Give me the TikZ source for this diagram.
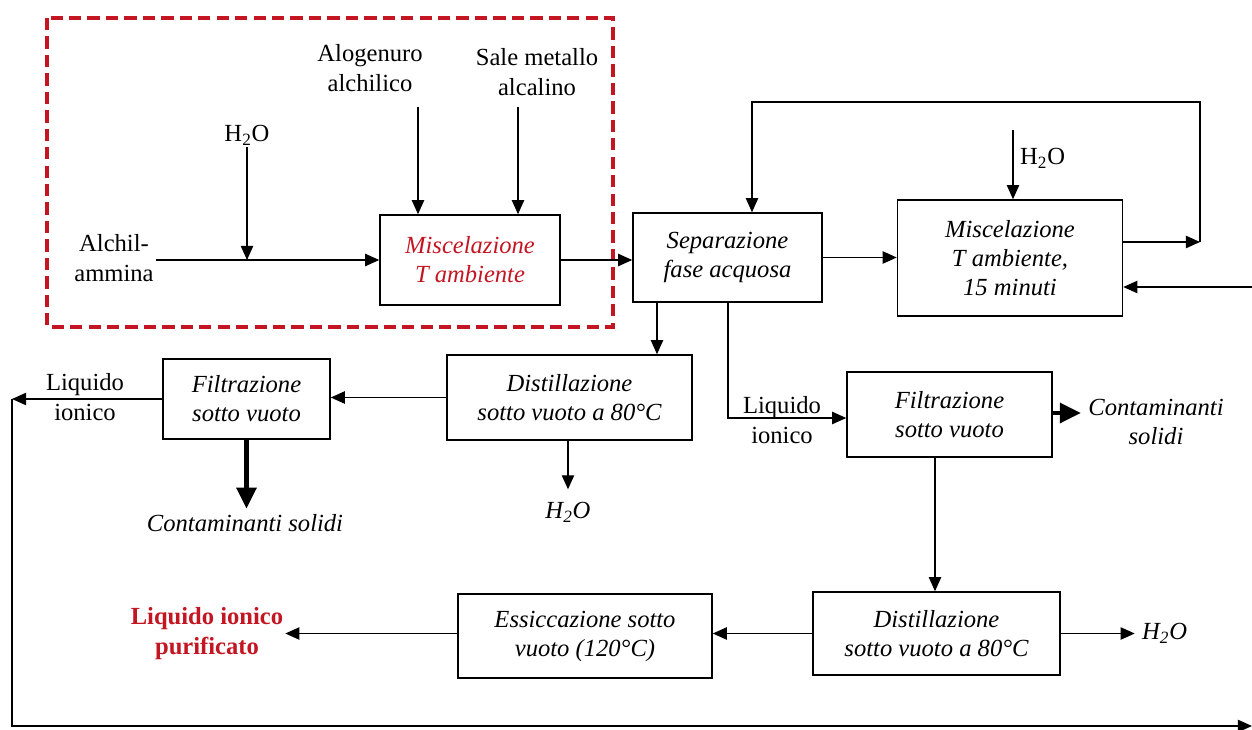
\documentclass[tikz,border=0pt]{standalone}
\usepackage{fontspec}
\setmainfont{Liberation Serif}
\usetikzlibrary{arrows.meta}
\definecolor{dred}{RGB}{196,22,34}
\begin{document}
\begin{tikzpicture}[x=0.02cm,y=-0.02cm,
  font=\fontsize{14}{17}\selectfont,
  box/.style={draw,line width=0.9pt,inner sep=0pt,align=center,font=\fontsize{14}{16.5}\selectfont\itshape},
  lbl/.style={align=center,inner sep=1pt},
  arr/.style={line width=0.75pt,-{Triangle[length=8pt,width=7pt]}},
  thk/.style={line width=2.8pt,-{Triangle[length=12pt,width=11pt]}},
  redbox/.style={draw=dred,line width=2.3pt,dash pattern=on 7pt off 3.5pt}]
\useasboundingbox (0,0) rectangle (1252,730);

% dashed frame
\draw[redbox] (47,18) rectangle (613,327);

% boxes
\node[box,text=dred,minimum width=3.6cm,minimum height=1.8cm] (m1) at (470,260) {Miscelazione\\T ambiente};
\node[box,minimum width=3.78cm,minimum height=1.78cm] (sep) at (727.5,257.5) {Separazione\\fase acquosa};
\node[box,minimum width=4.5cm,minimum height=2.32cm] (m2) at (1010,258) {Miscelazione\\T ambiente,\\15 minuti};
\node[box,minimum width=4.9cm,minimum height=1.7cm] (d1) at (569.5,397.5) {Distillazione\\sotto vuoto a 80°C};
\node[box,minimum width=3.34cm,minimum height=1.6cm] (f1) at (246.5,399) {Filtrazione\\sotto vuoto};
\node[box,minimum width=4.1cm,minimum height=1.7cm] (f2) at (949.5,414.5) {Filtrazione\\sotto vuoto};
\node[box,minimum width=4.94cm,minimum height=1.66cm] (d2) at (936.5,633.5) {Distillazione\\sotto vuoto a 80°C};
\node[box,minimum width=5.08cm,minimum height=1.68cm] (es) at (585,636) {Essiccazione sotto\\vuoto (120°C)};

% labels
\node[lbl] (alch) at (114,258) {Alchil-\\ammina};
\node[lbl] (h2oA) at (247,135) {H\textsubscript{2}O};
\node[lbl] (alo) at (370,68) {Alogenuro\\alchilico};
\node[lbl] (sale) at (537,72) {Sale metallo\\alcalino};
\node[lbl,anchor=west] (h2oB) at (1018,158) {H\textsubscript{2}O};
\node[lbl] (liq1) at (85,397) {Liquido\\ionico};
\node[lbl,font=\fontsize{14}{17}\selectfont\itshape] (cs1) at (245,523) {Contaminanti solidi};
\node[lbl,font=\fontsize{14}{17}\selectfont\itshape] (h2oC) at (568,512) {H\textsubscript{2}O};
\node[lbl] (liq2) at (782,420) {Liquido\\ionico};
\node[lbl,font=\fontsize{14}{17}\selectfont\itshape] (cs2) at (1156,422) {Contaminanti\\solidi};
\node[lbl,font=\fontsize{14}{17}\selectfont\itshape,anchor=west] (h2oD) at (1140,633) {H\textsubscript{2}O};
\node[lbl,text=dred,font=\fontsize{14}{17}\selectfont\bfseries] (fin) at (207,634) {Liquido ionico\\purificato};

% coordinates
\coordinate (aloS) at (418,107);
\coordinate (saleS) at (518,107);
\coordinate (h2oBS) at (1013,130);
\coordinate (lpR) at (1200,242);
\coordinate (lpT) at (752,102);
\coordinate (inR) at (1252,287);
\coordinate (x657) at (657,0);
\coordinate (lq2) at (728,418);
\coordinate (lft) at (12,399);
\coordinate (x568) at (568,0);
\coordinate (x935) at (935,0);
\coordinate (y413) at (0,413);
\coordinate (bot) at (12,726);
\coordinate (botR) at (1252,726);

% connectors
\draw[arr] (alch.east |- m1.west) -- (m1.west);
\draw[arr] (h2oA.south) -- (h2oA.south |- m1.west);
\draw[arr] (aloS) -- (aloS |- m1.north);
\draw[arr] (saleS) -- (saleS |- m1.north);
\draw[arr] (m1.east) -- (m1.east -| sep.west);
\draw[arr] (sep.east) -- (sep.east -| m2.west);
\draw[arr] (h2oBS) -- (h2oBS |- m2.north);
\draw[arr] (m2.east |- lpR) -- (lpR);
\draw[arr] (lpR) -- (lpR |- lpT) -- (lpT) -- (lpT |- sep.north);
\draw[arr] (inR) -- (inR -| m2.east);
\draw[arr] (sep.south -| x657) -- (d1.north -| x657);
\draw[arr] (sep.south -| lq2) -- (lq2) -- (lq2 -| f2.west);
\draw[arr] (d1.west) -- (d1.west -| f1.east);
\draw[arr] (f1.west) -- (lft);
\draw[thk,shorten >=2pt] (f1.south) -- (f1.south |- cs1.north);
\draw[arr,shorten >=6pt] (d1.south -| x568) -- (h2oC.north);
\draw[thk,shorten >=3pt] (f2.east |- y413) -- (cs2.west |- y413);
\draw[arr] (f2.south -| x935) -- (d2.north -| x935);
\draw[arr,shorten >=3pt] (d2.east) -- (h2oD.west |- d2.east);
\draw[arr] (d2.west) -- (d2.west -| es.east);
\draw[arr] (es.west |- d2.west) -- (fin.east |- d2.west);
\draw[arr] (lft) -- (bot) -- (botR);
\end{tikzpicture}
\end{document}
